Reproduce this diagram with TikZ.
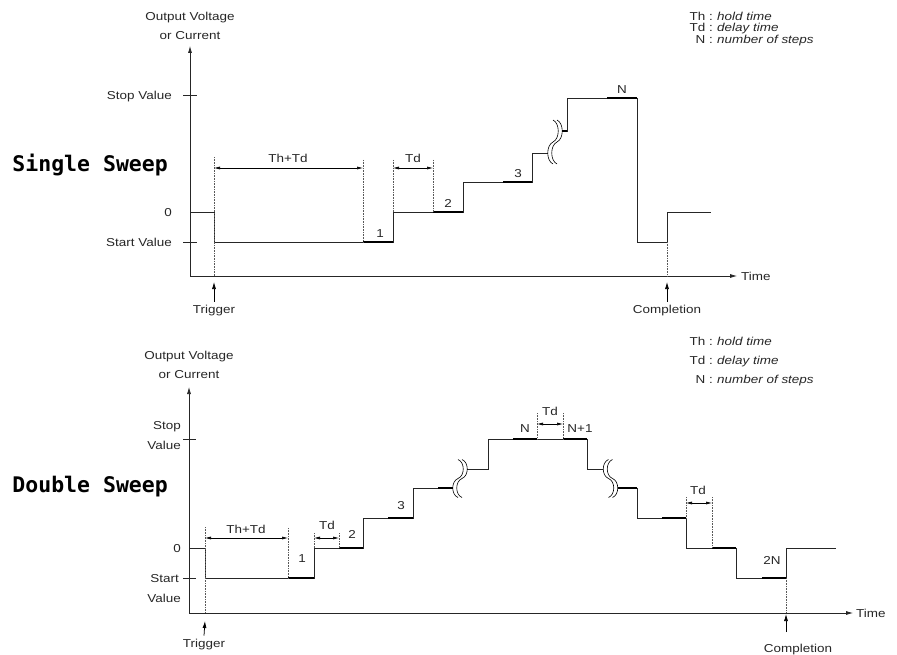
\documentclass[tikz,border=0pt]{standalone}
\usepackage{fontspec}
\setmainfont{Liberation Sans}[FakeStretch=1.17]
\newfontfamily\sweepfont{DejaVu Sans Mono}
\usetikzlibrary{arrows.meta, positioning, calc}

\tikzset{
  wave/.style={line width=0.75pt, line join=miter, black!85},
  hold/.style={line width=2.4pt},
  axis/.style={line width=0.75pt, black!85, -{Latex[length=7pt,width=4pt]}},
  ptr/.style={line width=0.75pt, -{Latex[length=7pt,width=4pt]}},
  guide/.style={densely dotted, line width=0.6pt, black!65},
  span/.style={line width=0.6pt, {Latex[length=6pt,width=3pt]}-{Latex[length=6pt,width=3pt]}},
  lbl/.style={inner sep=0pt, text height=8.3pt, text depth=0pt,
              font=\fontsize{11.5}{12}\selectfont, text=black!85},
  note/.style={lbl, anchor=west, font=\fontsize{11.5}{12}\selectfont\itshape},
  title/.style={inner sep=0pt, anchor=base east,
                font=\sweepfont\bfseries\fontsize{21.5}{22}\selectfont},
}

% break mark on the staircase: x, y, mirror, height
\newcommand{\sweepbreak}[4]{%
  \begin{scope}[shift={(#1,#2)}, xscale=#3, yscale=#4]
    \foreach \o in {-2,2}
      \draw[line width=0.6pt] (\o,-20) .. controls (\o+7,-17) and (\o+7,-3) .. (\o,0)
        .. controls (\o-7,3) and (\o-7,17) .. (\o,20);
  \end{scope}}

\begin{document}
\begin{tikzpicture}[x=1pt, y=-1pt]
  \useasboundingbox (0,0) rectangle (897,655);

  % ---------- single sweep ----------
  \node[title] (single) at (168,172) {Single Sweep};
  \node[lbl] (yout1) at (190,16) {Output Voltage};
  \node[lbl, below=10.7pt of yout1] (ycur1) {or Current};
  \coordinate (o1) at (190,276);
  \draw[axis] (o1) -- (190,46);
  \draw[axis] (o1) -- (737,276);
  \node[lbl, anchor=west] (time1) at (741,276) {Time};

  \draw[wave] (183,95) -- (197,95);
  \draw[wave] (183,242) -- (197,242);
  \node[lbl, anchor=east] (stop1) at (172,95) {Stop Value};
  \node[lbl, anchor=east] (zero1) at (172,212) {0};
  \node[lbl, anchor=east] (start1) at (172,242) {Start Value};

  \node[lbl, anchor=east] (th1) at (713,16) {Th :};
  \node[lbl, anchor=east] (td1) at (713,27.5) {Td :};
  \node[lbl, anchor=east] (n1) at (713,39) {N :};
  \node[note] at (717,16) {hold time};
  \node[note] at (717,27.5) {delay time};
  \node[note] at (717,39) {number of steps};

  \draw[wave] (190,212) -- (214,212) -- (214,242) -- (393,242) -- (393,212) -- (463,212)
    -- (463,182) -- (532,182) -- (532,153) -- (547.75,153);
  \draw[wave] (562.25,131) -- (567,131) -- (567,98) -- (637,98) -- (637,242) -- (667,242)
    -- (667,212) -- (711,212);
  \sweepbreak{555}{142}{1}{1.1}
  \draw[hold] (363,242) -- (393,242);
  \draw[hold] (433,212) -- (463,212);
  \draw[hold] (503,182) -- (532,182);
  \draw[hold] (562.25,131) -- (567,131);
  \draw[hold] (607,98) -- (637,98);
  \node[lbl] (s1) at (380,233) {1};
  \node[lbl] (s2) at (448,203) {2};
  \node[lbl] (s3) at (518,173) {3};
  \node[lbl] (sN) at (622,89) {N};

  \draw[guide] (214,157) -- (214,276);
  \draw[guide] (363,160) -- (363,242);
  \draw[guide] (393,160) -- (393,212);
  \draw[guide] (433,160) -- (433,212);
  \draw[guide] (667,242) -- (667,276);
  \draw[span] (214,168) -- (363,168);
  \draw[span] (393,168) -- (433,168);
  \node[lbl] (thtd1) at (288,158) {Th+Td};
  \node[lbl] (tda1) at (413,158) {Td};

  \node[lbl] (trig1) at (214,309) {Trigger};
  \draw[ptr] (trig1.north) ++(0,-3) -- (214,282);
  \node[lbl] (done1) at (667,309) {Completion};
  \draw[ptr] (done1.north) ++(0,-3) -- (667,282);

  % ---------- double sweep ----------
  \node[title] (double) at (168,492) {Double Sweep};
  \node[lbl] (yout2) at (189,355) {Output Voltage};
  \node[lbl, below=10.7pt of yout2] (ycur2) {or Current};
  \coordinate (o2) at (189,613);
  \draw[axis] (o2) -- (189,387);
  \draw[axis] (o2) -- (853,613);
  \node[lbl, anchor=west] (time2) at (856,613) {Time};

  \draw[wave] (183,439) -- (196,439);
  \draw[wave] (183,578) -- (196,578);
  \node[lbl, anchor=east] (stop2) at (181,425) {Stop};
  \node[lbl, below=11.7pt of stop2.south east, anchor=north east] {Value};
  \node[lbl, anchor=east] (zero2) at (181,548) {0};
  \node[lbl, anchor=east] (start2) at (179,578) {Start};
  \node[lbl, below=11.7pt of start2.south east, anchor=north east, xshift=2pt] {Value};

  \node[lbl, anchor=east] (th2) at (713,341) {Th :};
  \node[lbl, anchor=east] (td2) at (713,360) {Td :};
  \node[lbl, anchor=east] (n2) at (713,379) {N :};
  \node[note] at (717,341) {hold time};
  \node[note] at (717,360) {delay time};
  \node[note] at (717,379) {number of steps};

  \draw[wave] (189,548) -- (205,548) -- (205,578) -- (314,578) -- (314,548) -- (363,548)
    -- (363,518) -- (413,518) -- (413,488) -- (452.75,488);
  \draw[wave] (467.25,469) -- (488,469) -- (488,439) -- (587,439) -- (587,469) -- (603.25,469);
  \draw[wave] (617.75,488) -- (637,488) -- (637,518) -- (686,518) -- (686,548) -- (736,548)
    -- (736,578) -- (786,578) -- (786,548) -- (836,548);
  \sweepbreak{460}{478.5}{1}{0.95}
  \sweepbreak{610.5}{478.5}{-1}{0.95}
  \draw[hold] (288,578) -- (314,578);
  \draw[hold] (339,548) -- (363,548);
  \draw[hold] (388,518) -- (413,518);
  \draw[hold] (438,488) -- (452.75,488);
  \draw[hold] (513,439) -- (537,439);
  \draw[hold] (563,439) -- (587,439);
  \draw[hold] (617.75,488) -- (637,488);
  \draw[hold] (662,518) -- (686,518);
  \draw[hold] (712,548) -- (736,548);
  \draw[hold] (762,578) -- (786,578);
  \node[lbl] (d1) at (302,558) {1};
  \node[lbl] (d2) at (352,534) {2};
  \node[lbl] (d3) at (401,505) {3};
  \node[lbl] (dN) at (525,428) {N};
  \node[lbl] (dN1) at (580,428) {N+1};
  \node[lbl] (d2N) at (772,560) {2N};

  \draw[guide] (205,527) -- (205,613);
  \draw[guide] (288,528) -- (288,578);
  \draw[guide] (314,533) -- (314,548);
  \draw[guide] (339,533) -- (339,548);
  \draw[guide] (537,413) -- (537,439);
  \draw[guide] (563,413) -- (563,439);
  \draw[guide] (686,497) -- (686,518);
  \draw[guide] (712,497) -- (712,548);
  \draw[guide] (786,578) -- (786,613);
  \draw[span] (205,538) -- (288,538);
  \draw[span] (314,538) -- (339,538);
  \draw[span] (537,424) -- (563,424);
  \draw[span] (686,503) -- (712,503);
  \node[lbl] (thtd2) at (246,529) {Th+Td};
  \node[lbl] (tda2) at (327,525) {Td};
  \node[lbl] (tdb2) at (550,411) {Td};
  \node[lbl] (tdc2) at (698,490) {Td};

  \node[lbl] (trig2) at (204,643) {Trigger};
  \draw[ptr] (trig2.north) ++(0,-3) -- (205,621);
  \node[lbl] (done2) at (798,648) {Completion};
  \coordinate (done2tail) at (786,632);
  \draw[ptr] (done2tail) -- (786,614);
\end{tikzpicture}
\end{document}
